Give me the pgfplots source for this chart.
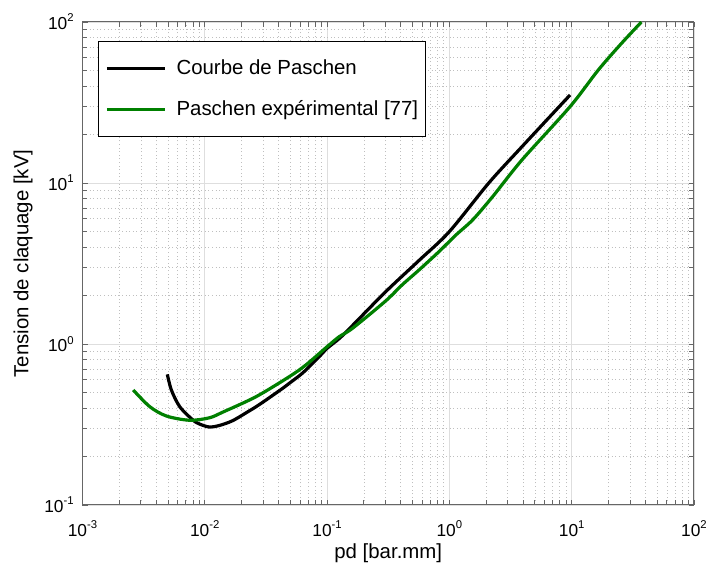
\documentclass[border=0pt]{standalone}
\usepackage{fontspec}
\setmainfont{Liberation Sans}
\usepackage{pgfplots}
\pgfplotsset{compat=1.18}
\definecolor{mgreen}{RGB}{0,128,0}
\newcommand\tf{\fontsize{13}{15}\selectfont}
\newcommand\lf{\fontsize{15.3}{18}\selectfont}
\newcommand\tl[1]{10\raisebox{5.8pt}{\fontsize{8.5}{10}\selectfont #1}}
\begin{document}
\begin{tikzpicture}
\begin{loglogaxis}[
  scale only axis,
  width=458.6pt, height=362.25pt,
  at={(0,0)}, anchor=south west,
  xmin=1e-3, xmax=1e2, ymin=1e-1, ymax=1e2,
  xtick={1e-3,1e-2,1e-1,1,10,100},
  xticklabels={\tl{-3},\tl{-2},\tl{-1},\tl{0},\tl{1},\tl{2}},
  ytick={0.1,1,10,100},
  yticklabels={\tl{-1},\tl{0},\tl{1},\tl{2}},
  minor xtick={0.002,0.003,0.004,0.005,0.006,0.007,0.008,0.009,
    0.02,0.03,0.04,0.05,0.06,0.07,0.08,0.09,
    0.2,0.3,0.4,0.5,0.6,0.7,0.8,0.9,
    2,3,4,5,6,7,8,9,20,30,40,50,60,70,80,90},
  minor ytick={0.2,0.3,0.4,0.5,0.6,0.7,0.8,0.9,
    2,3,4,5,6,7,8,9,20,30,40,50,60,70,80,90},
  tick align=inside, tick pos=both,
  major tick length=4pt, minor tick length=3.5pt,
  tick style={draw=black!60, line width=0.6pt},
  axis line style={draw=black!60, line width=0.75pt},
  grid=both,
  major grid style={draw=black!13, line width=0.6pt},
  minor grid style={draw=black!25, line width=0.5pt, dash pattern=on 0.7pt off 2pt},
  xticklabel style={font=\tf, inner sep=0pt, anchor=north, yshift=-11.8pt},
  yticklabel style={font=\tf, inner sep=0pt, anchor=east, xshift=-6.4pt},
  xlabel={pd [bar.mm]},
  ylabel={Tension de claquage [kV]},
  xlabel style={font=\lf, at={(axis description cs:0.5,-0.0994)}, anchor=center},
  ylabel style={font=\lf, at={(axis description cs:-0.0973,0.5)}, anchor=center, rotate=0},
  legend style={
    at={(axis description cs:0.0253,0.9607)}, anchor=north west,
    draw=black, line width=0.6pt, fill=white,
    inner xsep=5.25pt, inner ysep=14pt,
    row sep=18pt, column sep=7.5pt,
    cells={anchor=west},
    nodes={inner sep=0pt, font=\lf},
  },
  legend image code/.code={\path (0pt,0pt) -- (3.75pt,0pt); \draw[#1] (3.75pt,0pt) -- (43.5pt,0pt);},
]
\addplot[black, line width=2.4pt, line join=round, smooth, tension=0.5] coordinates {
(0.00494,0.648) (0.00533,0.518) (0.00624,0.408) (0.0080,0.337) (0.0091,0.318)
(0.0109,0.305) (0.0130,0.311) (0.0169,0.334) (0.0232,0.385) (0.0263,0.408)
(0.0317,0.449) (0.0434,0.531) (0.0491,0.570) (0.0593,0.635) (0.0671,0.69)
(0.0863,0.835) (0.1,0.94) (0.1256,1.08) (0.161,1.30) (0.301,2.11)
(0.564,3.3) (1.0,4.99) (2.1,10.0) (3.92,16.8) (9.7,35.2)
};
\addlegendentry{Courbe de Paschen}
\addplot[mgreen, line width=2.4pt, line join=round, smooth, tension=0.5] coordinates {
(0.0026,0.518) (0.00355,0.408) (0.00486,0.357) (0.0075,0.336) (0.0109,0.348)
(0.0141,0.378) (0.0263,0.471) (0.0491,0.627) (0.0671,0.741) (0.1,0.962)
(0.1256,1.11) (0.161,1.25) (0.301,1.85) (0.411,2.33) (0.564,2.88)
(0.82,3.74) (1.13,4.75) (1.55,5.9) (2.25,8.2) (3.92,13.9) (9.7,29.8)
(16.5,50.3) (25.6,73.8) (37.2,100)
};
\addlegendentry{Paschen expérimental [77]}
\end{loglogaxis}
\path[use as bounding box] (-61.875pt,-48.75pt) rectangle (470.625pt,378.75pt);
\end{tikzpicture}
\end{document}
